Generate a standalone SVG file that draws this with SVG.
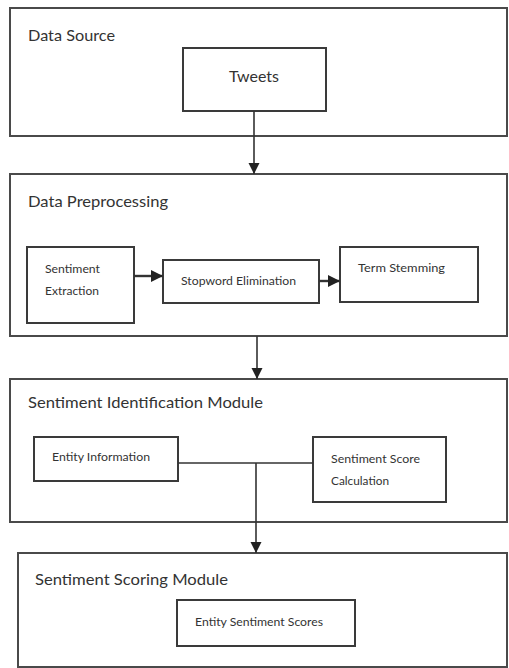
<svg xmlns="http://www.w3.org/2000/svg" width="509" height="668" viewBox="0 0 509 668">
  <style>
    .frame { fill: #ffffff; stroke: #4a4a4a; stroke-width: 2; }
    .box { fill: #ffffff; stroke: #3a3a3a; stroke-width: 2; }
    .link { fill: none; stroke: #333333; stroke-width: 1.6; }
    .flow { stroke-width: 2.4; }
    .title { font-family: Lato, "Liberation Sans", sans-serif; font-size: 16px; fill: #333333; }
    .label { font-family: Lato, "Liberation Sans", sans-serif; font-size: 11.5px; fill: #333333; }
    .big { font-family: Lato, "Liberation Sans", sans-serif; font-size: 15px; fill: #333333; }
  </style>
  <defs>
    <marker id="arrow" viewBox="0 0 10 10" refX="10" refY="5" markerWidth="7" markerHeight="7" markerUnits="strokeWidth" orient="auto">
      <path d="M0,0 L10,5 L0,10 Z" fill="#222222"/>
    </marker>
    <marker id="arrow-flow" viewBox="0 0 10 10" refX="10" refY="5" markerWidth="5" markerHeight="5" markerUnits="strokeWidth" orient="auto">
      <path d="M0,0 L10,5 L0,10 Z" fill="#222222"/>
    </marker>
  </defs>
  <rect width="509" height="668" fill="#ffffff"/>

  <!-- Stage 1: data source -->
  <g id="data-source">
    <rect class="frame" x="10" y="8" width="497" height="128"/>
    <text class="title" x="28" y="41" textLength="87" lengthAdjust="spacingAndGlyphs">Data Source</text>
  </g>
  <g id="tweets">
    <rect class="box" x="183" y="48" width="143" height="63"/>
    <text class="big" x="254" y="82" text-anchor="middle" textLength="50" lengthAdjust="spacingAndGlyphs">Tweets</text>
  </g>

  <!-- Stage 2: preprocessing -->
  <g id="data-preprocessing">
    <rect class="frame" x="10" y="174" width="497" height="162"/>
    <text class="title" x="28" y="207" textLength="140" lengthAdjust="spacingAndGlyphs">Data Preprocessing</text>
  </g>
  <g id="sentiment-extraction">
    <rect class="box" x="27" y="247" width="107" height="76"/>
    <text class="label" x="45" y="273" textLength="55" lengthAdjust="spacingAndGlyphs">Sentiment</text>
    <text class="label" x="45" y="295" textLength="54" lengthAdjust="spacingAndGlyphs">Extraction</text>
  </g>
  <g id="stopword-elimination">
    <rect class="box" x="163" y="260" width="156" height="43"/>
    <text class="label" x="181" y="285" textLength="115" lengthAdjust="spacingAndGlyphs">Stopword Elimination</text>
  </g>
  <g id="term-stemming">
    <rect class="box" x="340" y="247" width="138" height="55"/>
    <text class="label" x="358" y="272" textLength="87" lengthAdjust="spacingAndGlyphs">Term Stemming</text>
  </g>

  <!-- Stage 3: identification -->
  <g id="sentiment-identification">
    <rect class="frame" x="10" y="379" width="497" height="143"/>
    <text class="title" x="28" y="408" textLength="235" lengthAdjust="spacingAndGlyphs">Sentiment Identification  Module</text>
  </g>
  <g id="entity-information">
    <rect class="box" x="34" y="437" width="144" height="44"/>
    <text class="label" x="52" y="461" textLength="98" lengthAdjust="spacingAndGlyphs">Entity Information</text>
  </g>
  <g id="score-calculation">
    <rect class="box" x="313" y="437" width="133" height="65"/>
    <text class="label" x="331" y="463" textLength="89" lengthAdjust="spacingAndGlyphs">Sentiment Score</text>
    <text class="label" x="331" y="485" textLength="58" lengthAdjust="spacingAndGlyphs">Calculation</text>
  </g>

  <!-- Stage 4: scoring -->
  <g id="sentiment-scoring">
    <rect class="frame" x="18" y="553" width="489" height="114"/>
    <text class="title" x="35" y="585" textLength="193" lengthAdjust="spacingAndGlyphs">Sentiment Scoring Module</text>
  </g>
  <g id="entity-scores">
    <rect class="box" x="177" y="600" width="178" height="46"/>
    <text class="label" x="195" y="626" textLength="128" lengthAdjust="spacingAndGlyphs">Entity Sentiment Scores</text>
  </g>

  <!-- Connectors -->
  <g id="connectors">
    <line class="link" x1="254" y1="111" x2="254" y2="174" marker-end="url(#arrow)"/>
    <line class="link flow" x1="134" y1="276" x2="163" y2="276" marker-end="url(#arrow-flow)"/>
    <line class="link flow" x1="319" y1="281" x2="340" y2="281" marker-end="url(#arrow-flow)"/>
    <line class="link" x1="257" y1="336" x2="257" y2="379" marker-end="url(#arrow)"/>
    <line class="link" x1="178" y1="463" x2="313" y2="463"/>
    <line class="link" x1="256" y1="463" x2="256" y2="553" marker-end="url(#arrow)"/>
  </g>
</svg>
